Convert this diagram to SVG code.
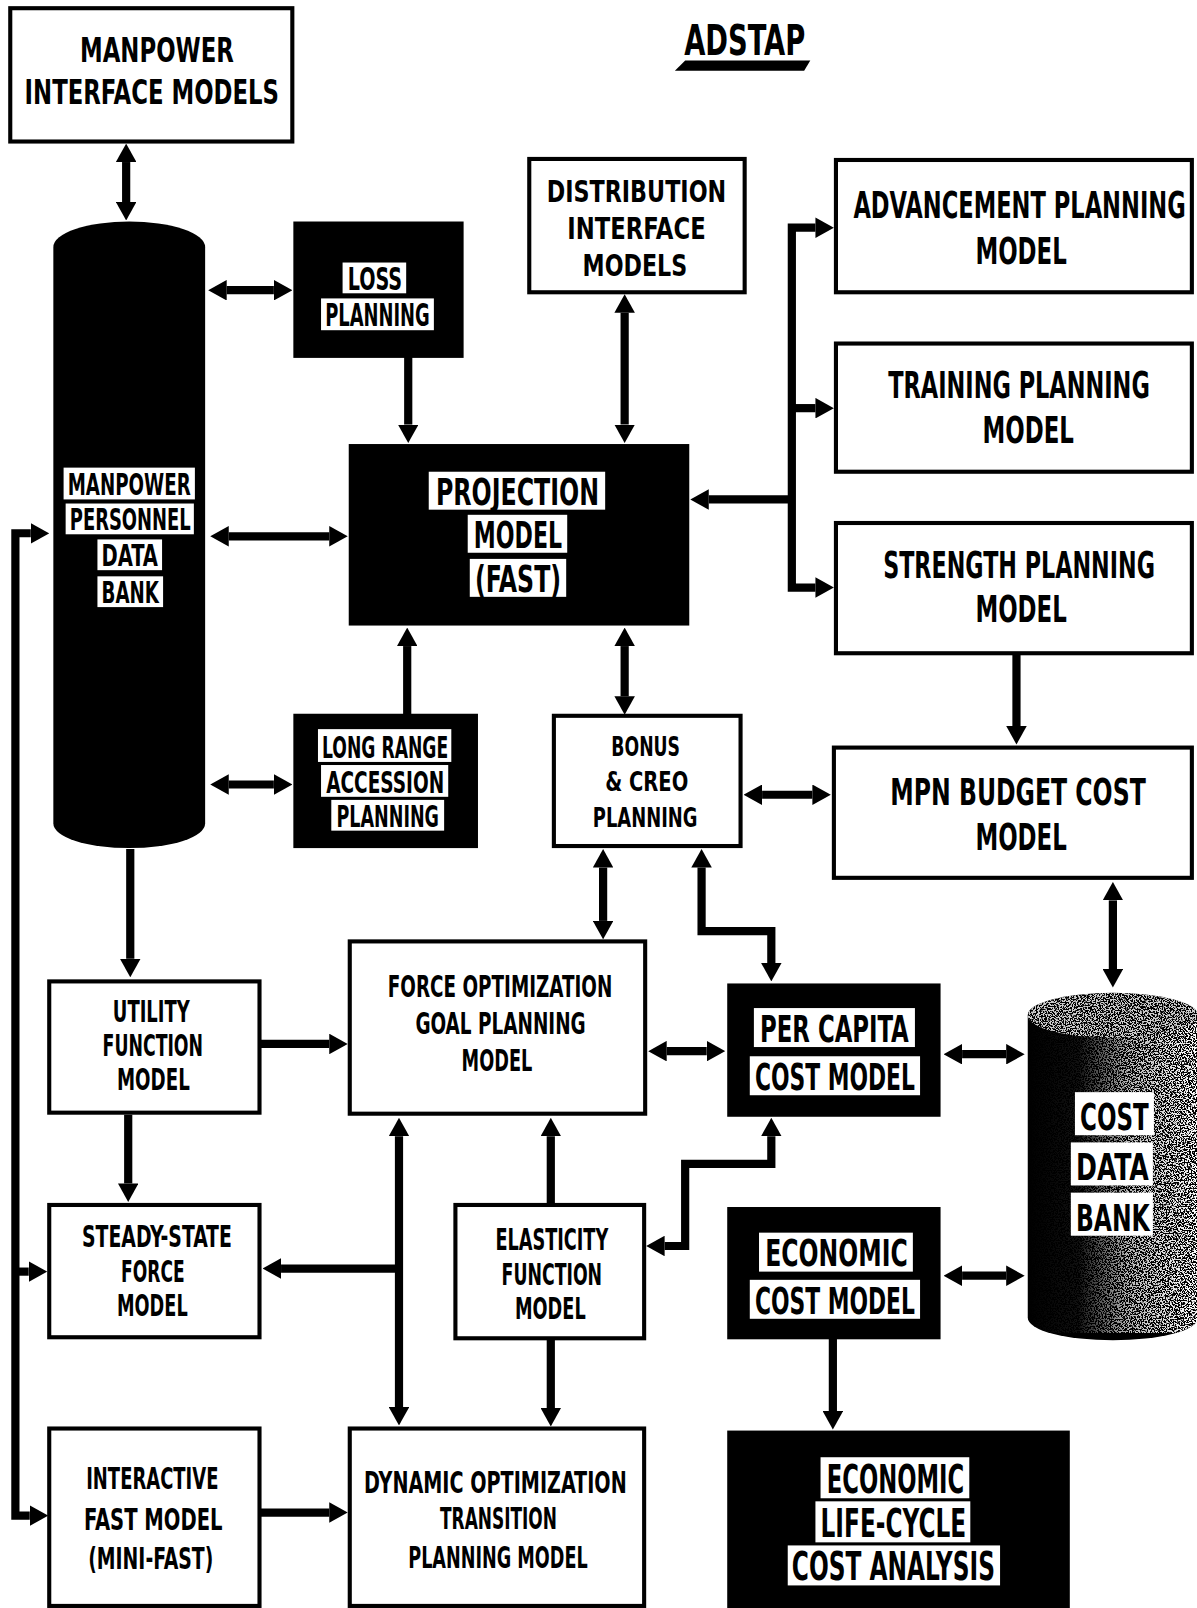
<svg xmlns="http://www.w3.org/2000/svg" width="1197" height="1608" viewBox="0 0 1197 1608">
<style>
.t{font-family:"Liberation Sans Narrow","DejaVu Sans Condensed","Liberation Sans",sans-serif;font-weight:700;fill:#000}
.wb{fill:#fff;stroke:#000;stroke-width:4}
.bb{fill:#000;stroke:#000;stroke-width:2}
.lb{fill:#fff}
.c{fill:none;stroke:#000;stroke-width:8;stroke-linejoin:miter}
.c1{marker-end:url(#ah)}
.c2{marker-start:url(#ahs);marker-end:url(#ah)}
</style>
<defs>
<marker id="ah" viewBox="0 0 18 20" refX="0" refY="10" markerWidth="18" markerHeight="20" markerUnits="userSpaceOnUse" orient="auto"><path d="M0,0 L18,10 L0,20 Z" fill="#000"/></marker>
<marker id="ahs" viewBox="0 0 18 20" refX="0" refY="10" markerWidth="18" markerHeight="20" markerUnits="userSpaceOnUse" orient="auto-start-reverse"><path d="M0,0 L18,10 L0,20 Z" fill="#000"/></marker>
<filter id="spk" x="0" y="0" width="1" height="1" color-interpolation-filters="sRGB">
<feTurbulence type="fractalNoise" baseFrequency="0.75" numOctaves="2" seed="7" result="n"/>
<feColorMatrix in="n" type="matrix" values="0 0 0 0 1  0 0 0 0 1  0 0 0 0 1  14 0 0 0 -6.6" result="w"/>
<feComposite in="w" in2="SourceAlpha" operator="in"/>
</filter>
<linearGradient id="fade" x1="0" y1="0" x2="1" y2="0">
<stop offset="0" stop-color="#000"/><stop offset="0.3" stop-color="#111"/><stop offset="0.6" stop-color="#bbb"/><stop offset="1" stop-color="#fff"/>
</linearGradient>
<mask id="cm" maskUnits="userSpaceOnUse" x="995" y="960" width="180" height="340">
<rect x="1002" y="960" width="166" height="340" fill="url(#fade)"/>
<ellipse cx="1085" cy="990" rx="83" ry="22" fill="#ccc"/>
</mask>
</defs>
<rect width="1197" height="1608" fill="#fff"/>
<g transform="scale(1.0257,1.0255)">
<g id="title">
<text class="t" x="667" y="54" font-size="42" textLength="118" lengthAdjust="spacingAndGlyphs">ADSTAP</text>
<polygon points="668,59 790,59 784,69 658,69" fill="#000"/>
</g>
<g id="manpower-interface">
<rect class="wb" x="10" y="8" width="275" height="130"/>
<text class="t" x="78" y="60" font-size="33" textLength="150" lengthAdjust="spacingAndGlyphs">MANPOWER</text>
<text class="t" x="24" y="101" font-size="33" textLength="248" lengthAdjust="spacingAndGlyphs">INTERFACE MODELS</text>
</g>
<g id="distribution-interface">
<rect class="wb" x="516" y="155" width="210" height="130"/>
<text class="t" x="533" y="197" font-size="30" textLength="175" lengthAdjust="spacingAndGlyphs">DISTRIBUTION</text>
<text class="t" x="553" y="233" font-size="30" textLength="135" lengthAdjust="spacingAndGlyphs">INTERFACE</text>
<text class="t" x="568" y="269" font-size="30" textLength="102" lengthAdjust="spacingAndGlyphs">MODELS</text>
</g>
<g id="advancement">
<rect class="wb" x="815" y="156" width="347" height="129"/>
<text class="t" transform="translate(832,213) scale(1,1.48)" font-size="24" textLength="324" lengthAdjust="spacingAndGlyphs">ADVANCEMENT PLANNING</text>
<text class="t" transform="translate(951,257) scale(1,1.48)" font-size="24" textLength="89" lengthAdjust="spacingAndGlyphs">MODEL</text>
</g>
<g id="training">
<rect class="wb" x="815" y="335" width="347" height="125"/>
<text class="t" transform="translate(866,388) scale(1,1.48)" font-size="24" textLength="255" lengthAdjust="spacingAndGlyphs">TRAINING PLANNING</text>
<text class="t" transform="translate(958,432) scale(1,1.48)" font-size="24" textLength="89" lengthAdjust="spacingAndGlyphs">MODEL</text>
</g>
<g id="strength">
<rect class="wb" x="815" y="510" width="347" height="127"/>
<text class="t" transform="translate(861,564) scale(1,1.48)" font-size="24" textLength="265" lengthAdjust="spacingAndGlyphs">STRENGTH PLANNING</text>
<text class="t" transform="translate(951,607) scale(1,1.48)" font-size="24" textLength="89" lengthAdjust="spacingAndGlyphs">MODEL</text>
</g>
<g id="mpn-budget">
<rect class="wb" x="813" y="729" width="349" height="127"/>
<text class="t" transform="translate(868,785) scale(1,1.48)" font-size="24" textLength="249" lengthAdjust="spacingAndGlyphs">MPN BUDGET COST</text>
<text class="t" transform="translate(951,829) scale(1,1.48)" font-size="24" textLength="89" lengthAdjust="spacingAndGlyphs">MODEL</text>
</g>
<g id="manpower-databank">
<path d="M52,241 A74,25 0 0 1 200,241 L200,803 A74,24 0 0 1 52,803 Z" fill="#000"/>
<rect class="lb" x="62" y="456" width="128" height="31"/>
<text class="t" x="66" y="483" font-size="30" textLength="120" lengthAdjust="spacingAndGlyphs">MANPOWER</text>
<rect class="lb" x="64" y="491" width="125" height="30"/>
<text class="t" x="68" y="517" font-size="30" textLength="118" lengthAdjust="spacingAndGlyphs">PERSONNEL</text>
<rect class="lb" x="95" y="526" width="63" height="30"/>
<text class="t" x="99" y="552" font-size="30" textLength="55" lengthAdjust="spacingAndGlyphs">DATA</text>
<rect class="lb" x="95" y="562" width="64" height="30"/>
<text class="t" x="99" y="588" font-size="30" textLength="56" lengthAdjust="spacingAndGlyphs">BANK</text>
</g>
<g id="loss-planning">
<rect class="bb" x="287" y="217" width="164" height="131"/>
<rect class="lb" x="334" y="256" width="62" height="30"/>
<text class="t" x="339" y="283" font-size="31" textLength="53" lengthAdjust="spacingAndGlyphs">LOSS</text>
<rect class="lb" x="313" y="291" width="110" height="31"/>
<text class="t" x="317" y="318" font-size="31" textLength="102" lengthAdjust="spacingAndGlyphs">PLANNING</text>
</g>
<g id="projection">
<rect class="bb" x="341" y="434" width="330" height="175"/>
<rect class="lb" x="418" y="460" width="172" height="37"/>
<text class="t" x="425" y="492" font-size="36" textLength="159" lengthAdjust="spacingAndGlyphs">PROJECTION</text>
<rect class="lb" x="456" y="502" width="97" height="37"/>
<text class="t" x="462" y="534" font-size="36" textLength="86" lengthAdjust="spacingAndGlyphs">MODEL</text>
<rect class="lb" x="458" y="545" width="94" height="37"/>
<text class="t" x="463" y="577" font-size="36" textLength="84" lengthAdjust="spacingAndGlyphs">(FAST)</text>
</g>
<g id="long-range">
<rect class="bb" x="287" y="697" width="178" height="129"/>
<rect class="lb" x="310" y="711" width="130" height="32"/>
<text class="t" x="314" y="739" font-size="30" textLength="123" lengthAdjust="spacingAndGlyphs">LONG RANGE</text>
<rect class="lb" x="313" y="746" width="124" height="31"/>
<text class="t" x="318" y="773" font-size="30" textLength="115" lengthAdjust="spacingAndGlyphs">ACCESSION</text>
<rect class="lb" x="323" y="780" width="110" height="30"/>
<text class="t" x="328" y="806" font-size="30" textLength="100" lengthAdjust="spacingAndGlyphs">PLANNING</text>
</g>
<g id="bonus-creo">
<rect class="wb" x="540" y="698" width="182" height="127"/>
<text class="t" x="596" y="737" font-size="26" textLength="67" lengthAdjust="spacingAndGlyphs">BONUS</text>
<text class="t" x="590" y="771" font-size="26" textLength="81" lengthAdjust="spacingAndGlyphs">&amp; CREO</text>
<text class="t" x="578" y="806" font-size="26" textLength="102" lengthAdjust="spacingAndGlyphs">PLANNING</text>
</g>
<g id="utility">
<rect class="wb" x="48" y="957" width="205" height="128"/>
<text class="t" x="110" y="997" font-size="30" textLength="75" lengthAdjust="spacingAndGlyphs">UTILITY</text>
<text class="t" x="100" y="1030" font-size="30" textLength="98" lengthAdjust="spacingAndGlyphs">FUNCTION</text>
<text class="t" x="114" y="1063" font-size="30" textLength="71" lengthAdjust="spacingAndGlyphs">MODEL</text>
</g>
<g id="force-optimization">
<rect class="wb" x="341" y="918" width="288" height="168"/>
<text class="t" x="378" y="972" font-size="30" textLength="219" lengthAdjust="spacingAndGlyphs">FORCE OPTIMIZATION</text>
<text class="t" x="405" y="1008" font-size="30" textLength="166" lengthAdjust="spacingAndGlyphs">GOAL PLANNING</text>
<text class="t" x="450" y="1044" font-size="30" textLength="69" lengthAdjust="spacingAndGlyphs">MODEL</text>
</g>
<g id="per-capita">
<rect class="bb" x="710" y="960" width="206" height="128"/>
<rect class="lb" x="735" y="983" width="157" height="38"/>
<text class="t" x="741" y="1016" font-size="37" textLength="145" lengthAdjust="spacingAndGlyphs">PER CAPITA</text>
<rect class="lb" x="731" y="1030" width="166" height="38"/>
<text class="t" x="736" y="1063" font-size="37" textLength="156" lengthAdjust="spacingAndGlyphs">COST MODEL</text>
</g>
<g id="cost-databank">
<path d="M1002,990 A83,22 0 0 1 1168,990 L1168,1285 A83,22 0 0 1 1002,1285 Z" fill="#000"/>
<path d="M1002,990 A83,22 0 0 1 1168,990 L1168,1285 A83,22 0 0 1 1002,1285 Z" fill="#fff" filter="url(#spk)" mask="url(#cm)"/>
<rect class="lb" x="1048" y="1065" width="77" height="42"/>
<text class="t" x="1053" y="1102" font-size="37" textLength="67" lengthAdjust="spacingAndGlyphs">COST</text>
<rect class="lb" x="1044" y="1114" width="80" height="42"/>
<text class="t" x="1049" y="1151" font-size="37" textLength="71" lengthAdjust="spacingAndGlyphs">DATA</text>
<rect class="lb" x="1044" y="1163" width="80" height="42"/>
<text class="t" x="1049" y="1200" font-size="37" textLength="72" lengthAdjust="spacingAndGlyphs">BANK</text>
</g>
<g id="steady-state">
<rect class="wb" x="48" y="1175" width="205" height="129"/>
<text class="t" x="80" y="1216" font-size="30" textLength="146" lengthAdjust="spacingAndGlyphs">STEADY-STATE</text>
<text class="t" x="118" y="1250" font-size="30" textLength="62" lengthAdjust="spacingAndGlyphs">FORCE</text>
<text class="t" x="114" y="1283" font-size="30" textLength="69" lengthAdjust="spacingAndGlyphs">MODEL</text>
</g>
<g id="elasticity">
<rect class="wb" x="444" y="1175" width="184" height="130"/>
<text class="t" x="483" y="1219" font-size="30" textLength="110" lengthAdjust="spacingAndGlyphs">ELASTICITY</text>
<text class="t" x="489" y="1253" font-size="30" textLength="98" lengthAdjust="spacingAndGlyphs">FUNCTION</text>
<text class="t" x="502" y="1286" font-size="30" textLength="69" lengthAdjust="spacingAndGlyphs">MODEL</text>
</g>
<g id="economic-cost">
<rect class="bb" x="710" y="1178" width="206" height="127"/>
<rect class="lb" x="740" y="1202" width="150" height="38"/>
<text class="t" x="746" y="1235" font-size="37" textLength="139" lengthAdjust="spacingAndGlyphs">ECONOMIC</text>
<rect class="lb" x="731" y="1248" width="166" height="38"/>
<text class="t" x="736" y="1281" font-size="37" textLength="156" lengthAdjust="spacingAndGlyphs">COST MODEL</text>
</g>
<g id="interactive-fast">
<rect class="wb" x="48" y="1393" width="205" height="173"/>
<text class="t" x="84" y="1452" font-size="30" textLength="129" lengthAdjust="spacingAndGlyphs">INTERACTIVE</text>
<text class="t" x="82" y="1492" font-size="30" textLength="135" lengthAdjust="spacingAndGlyphs">FAST MODEL</text>
<text class="t" x="86" y="1530" font-size="30" textLength="122" lengthAdjust="spacingAndGlyphs">(MINI-FAST)</text>
</g>
<g id="dynamic-optimization">
<rect class="wb" x="341" y="1393" width="287" height="173"/>
<text class="t" x="355" y="1456" font-size="30" textLength="256" lengthAdjust="spacingAndGlyphs">DYNAMIC OPTIMIZATION</text>
<text class="t" x="429" y="1491" font-size="30" textLength="114" lengthAdjust="spacingAndGlyphs">TRANSITION</text>
<text class="t" x="398" y="1529" font-size="30" textLength="175" lengthAdjust="spacingAndGlyphs">PLANNING MODEL</text>
</g>
<g id="life-cycle">
<rect class="bb" x="710" y="1396" width="332" height="174"/>
<rect class="lb" x="800" y="1421" width="145" height="40"/>
<text class="t" x="806" y="1456" font-size="38" textLength="134" lengthAdjust="spacingAndGlyphs">ECONOMIC</text>
<rect class="lb" x="795" y="1464" width="151" height="40"/>
<text class="t" x="800" y="1499" font-size="38" textLength="142" lengthAdjust="spacingAndGlyphs">LIFE-CYCLE</text>
<rect class="lb" x="768" y="1507" width="207" height="39"/>
<text class="t" x="772" y="1541" font-size="38" textLength="198" lengthAdjust="spacingAndGlyphs">COST ANALYSIS</text>
</g>
<g id="connectors">
<path class="c c2" d="M123,158 V197"/>
<path class="c c2" d="M221,283 H267"/>
<path class="c c1" d="M398,348 V414"/>
<path class="c c2" d="M609,305 V414"/>
<path class="c c2" d="M223,523 H321"/>
<path class="c c2" d="M795,222 H772 V573 H795"/>
<path class="c c1" d="M772,398 H795"/>
<path class="c c1" d="M772,487 H691"/>
<path class="c c1" d="M991,637 V708"/>
<path class="c c1" d="M397,697 V630"/>
<path class="c c2" d="M223,765 H267"/>
<path class="c c2" d="M609,630 V679"/>
<path class="c c2" d="M743,775 H792"/>
<path class="c c1" d="M127,828 V935"/>
<path class="c c1" d="M253,1018 H321"/>
<path class="c c2" d="M588,846 V898"/>
<path class="c c2" d="M684,846 V908 H752 V939"/>
<path class="c c2" d="M650,1025 H689"/>
<path class="c c2" d="M938,1028 H981"/>
<path class="c c2" d="M1085,878 V945"/>
<path class="c c1" d="M125,1087 V1154"/>
<path class="c c2" d="M389,1108 V1372"/>
<path class="c c1" d="M389,1237 H274"/>
<path class="c c1" d="M537,1175 V1108"/>
<path class="c c2" d="M648,1215 H668 V1135 H752 V1108"/>
<path class="c c1" d="M537,1305 V1373"/>
<path class="c c1" d="M253,1475 H321"/>
<path class="c c2" d="M30,520 H15 V1478 H29"/>
<path class="c c1" d="M15,1240 H28"/>
<path class="c c2" d="M938,1244 H981"/>
<path class="c c1" d="M812,1305 V1376"/>
</g>
</g>
</svg>
